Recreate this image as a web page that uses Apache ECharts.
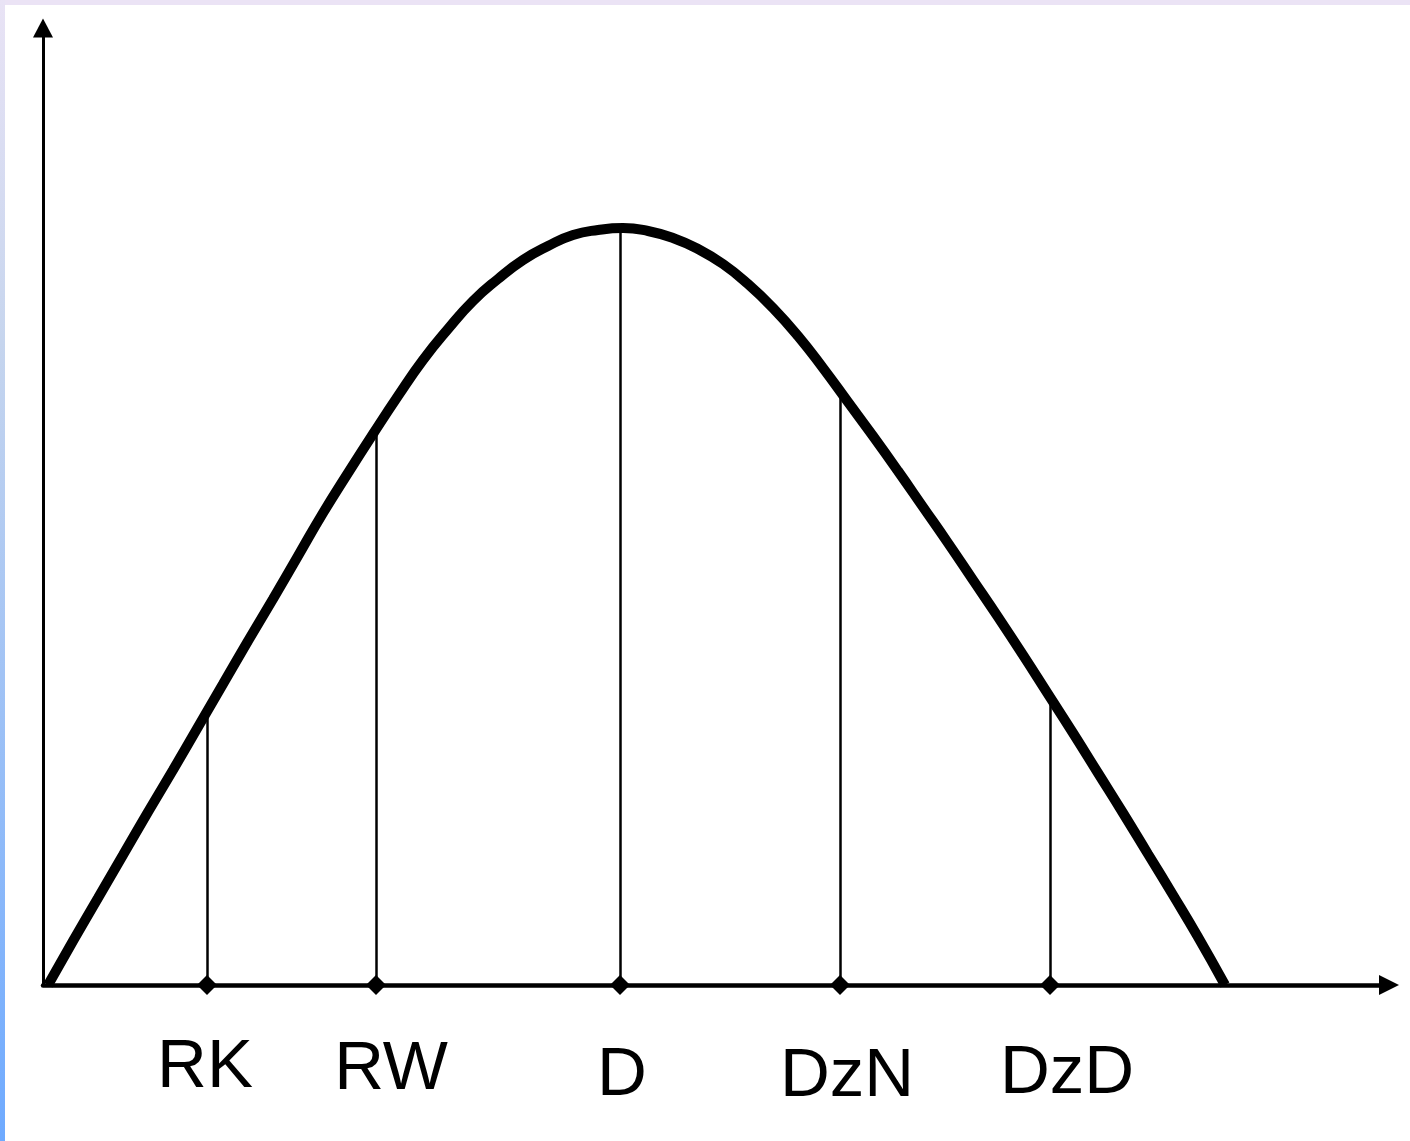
<!DOCTYPE html>
<html>
<head>
<meta charset="utf-8">
<title>Curve</title>
<script src="https://cdn.jsdelivr.net/npm/echarts@6/dist/echarts.min.js"></script>
<style>
  html, body { margin: 0; padding: 0; background: #fff; }
  #chart { width: 1410px; height: 1141px; }
</style>
</head>
<body>
<div id="chart"></div>
<script>
// curve (x, y in axis units)
const curveX = [5, 30, 55, 80, 105, 130, 155, 180, 205, 230, 255, 280, 305, 330, 355, 380,
  405, 430, 455, 480, 505, 530, 555, 580, 605, 630, 655, 680, 705, 730, 755, 780,
  805, 830, 855, 880, 905, 930, 955, 980, 1005, 1030, 1055, 1080, 1105, 1130, 1155, 1182]
const curveY = [0, 44, 87, 130, 173, 215, 258, 301, 344, 386, 429, 472, 512, 551, 589, 625,
  656, 684, 706, 725, 739, 750, 755, 757, 754, 747, 736, 721, 701, 677, 649, 617,
  583, 549, 514, 478, 442, 405, 368, 330, 291, 252, 212, 172, 131, 90, 48, 0]

// marked points on the x axis and where their lines meet the curve
const markNames = ['RK', 'RW', 'D', 'DzN', 'DzD']
const markX = [164, 333, 577, 797, 1007]
const markY = [274, 555, 757, 594, 288]

// small label nudges so the texts sit like in the picture
const labelNudge = [[-2, -2], [15, 0], [2, 6], [7, 7], [17, 4]]

const chart = echarts.init(document.getElementById('chart'))

const curveData = curveX.map((x, i) => [x, curveY[i]])
const dotData = markX.map((x, i) => ({
  name: markNames[i],
  value: [x, 0],
  label: { offset: labelNudge[i], color: '#000' }
}))
const lineData = markX.map((x, i) => [{ coord: [x, 0] }, { coord: [x, markY[i]] }])

const option = {
  animation: false,
  backgroundColor: '#fff',
  graphic: [
    {
      type: 'rect',
      shape: { x: 0, y: 0, width: 1410, height: 5 },
      style: { fill: '#ebe3f5' },
      silent: true
    },
    {
      type: 'rect',
      shape: { x: 0, y: 0, width: 5, height: 1141 },
      style: {
        fill: {
          type: 'linear', x: 0, y: 0, x2: 0, y2: 1,
          colorStops: [
            { offset: 0, color: '#e9e3f5' },
            { offset: 0.3, color: '#c6d5ee' },
            { offset: 1, color: '#6eaaff' }
          ]
        }
      },
      silent: true
    }
  ],
  grid: {
    left: 43,
    right: 21,
    top: 28,
    bottom: 156
  },
  xAxis: {
    type: 'value',
    min: 0,
    max: 1346,
    axisLine: {
      show: true,
      symbol: ['none', 'triangle'],
      symbolSize: [20, 20],
      lineStyle: { color: '#000', width: 4.5 }
    },
    axisTick: { show: false },
    axisLabel: { show: false },
    splitLine: { show: false }
  },
  yAxis: {
    type: 'value',
    min: 0,
    max: 957,
    axisLine: {
      show: true,
      symbol: ['none', 'triangle'],
      symbolSize: [20, 19],
      lineStyle: { color: '#000', width: 3 }
    },
    axisTick: { show: false },
    axisLabel: { show: false },
    splitLine: { show: false }
  },
  series: [
    {
      type: 'line',
      data: curveData,
      smooth: 0.5,
      showSymbol: false,
      silent: true,
      z: 5,
      lineStyle: { color: '#000', width: 10 },
      markLine: {
        silent: true,
        symbol: 'none',
        label: { show: false },
        lineStyle: { color: '#000', width: 2.5, type: 'solid' },
        data: lineData
      }
    },
    {
      type: 'scatter',
      data: dotData,
      symbol: 'diamond',
      symbolSize: 20,
      silent: true,
      z: 6,
      itemStyle: { color: '#000', opacity: 1 },
      label: {
        show: true,
        position: 'bottom',
        distance: 40,
        formatter: '{b}',
        color: '#000',
        fontSize: 69,
        fontWeight: 'normal',
        fontFamily: '"Liberation Sans", Arial, sans-serif'
      }
    }
  ]
}

chart.setOption(option)
</script>
</body>
</html>
